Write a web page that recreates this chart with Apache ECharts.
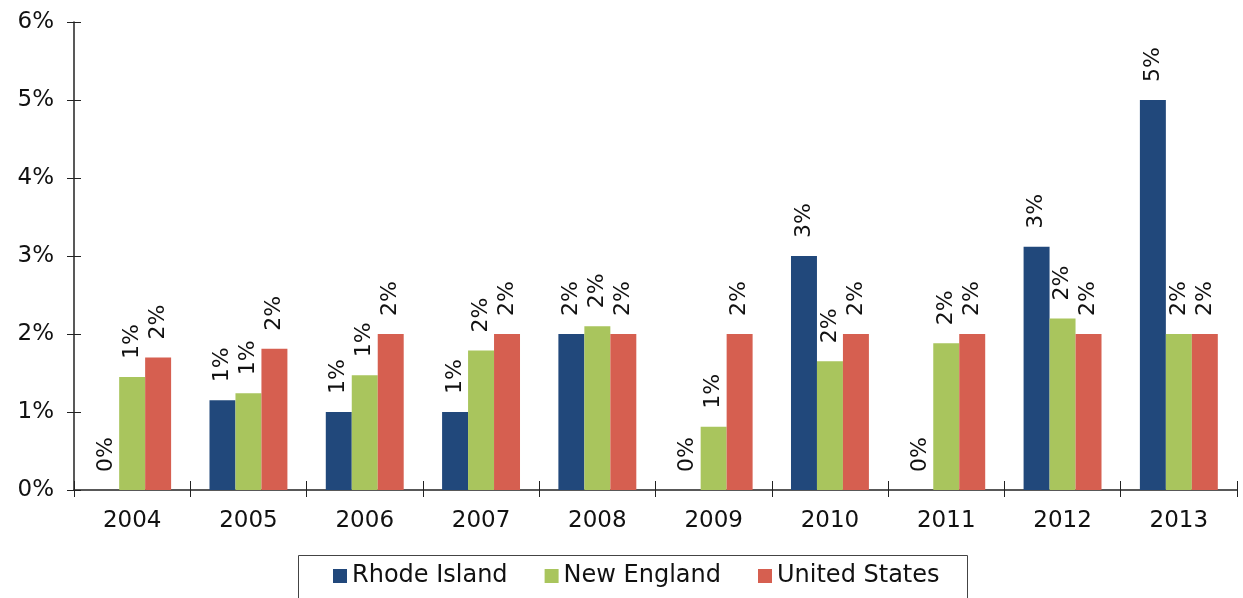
<!DOCTYPE html>
<html>
<head>
<meta charset="utf-8">
<script src="https://cdn.jsdelivr.net/npm/echarts@6/dist/echarts.min.js"></script>
<style>
html,body{margin:0;padding:0;background:#fff;}
#chart{width:1243px;height:598px;}
</style>
</head>
<body>
<div id="chart"></div>
<script>
const years = ['2004','2005','2006','2007','2008','2009','2010','2011','2012','2013'];
const rhodeIsland = [0, 1.15, 1.0, 1.0, 2.0, 0, 3.0, 0, 3.12, 5.0];
const newEngland = [1.45, 1.24, 1.47, 1.79, 2.1, 0.81, 1.65, 1.88, 2.2, 2.0];
const unitedStates = [1.7, 1.81, 2.0, 2.0, 2.0, 2.0, 2.0, 2.0, 2.0, 2.0];
const seriesNames = ['Rhode Island', 'New England', 'United States'];
const yTicks = [0, 1, 2, 3, 4, 5, 6];

const FONT = 'DejaVu Sans';
const colors = ['#21487b', '#a9c55d', '#d65f50'];

const label = {
  show: true,
  position: 'top',
  rotate: 90,
  align: 'left',
  verticalAlign: 'middle',
  distance: 18,
  fontFamily: FONT,
  fontSize: 22,
  color: '#111',
  formatter: p => Math.round(p.value) + '%'
};

function bar(name, data, i) {
  return {
    name: name, type: 'bar', data: data,
    barGap: '0%', barCategoryGap: '33%',
    itemStyle: { color: colors[i] },
    label: label,
    emphasis: { disabled: true }
  };
}

const chart = echarts.init(document.getElementById('chart'));
chart.setOption({
  animation: false,
  color: colors,
  grid: { left: 74, right: 6, top: 22, bottom: 108, containLabel: false },
  xAxis: [{
    type: 'category', data: years,
    axisLine: { lineStyle: { color: '#222', width: 1.5 } },
    axisTick: { show: true, length: 7, lineStyle: { color: '#222' } },
    axisLabel: { fontFamily: FONT, fontSize: 23, color: '#111', margin: 20 }
  }, {
    type: 'category', data: years, position: 'bottom',
    axisLine: { show: false },
    axisTick: { show: true, inside: true, length: 9, lineStyle: { color: '#222' } },
    axisLabel: { show: false }
  }],
  yAxis: [{
    type: 'value', min: yTicks[0], max: yTicks[yTicks.length - 1], interval: 1,
    axisLine: { show: true, lineStyle: { color: '#222', width: 1.5 } },
    axisTick: { show: true, length: 7, lineStyle: { color: '#222' } },
    splitLine: { show: false },
    axisLabel: { fontFamily: FONT, fontSize: 23, color: '#111', margin: 20, formatter: '{value}%' }
  }, {
    type: 'value', min: yTicks[0], max: yTicks[yTicks.length - 1], interval: 1, position: 'left', offset: 0,
    axisLine: { show: false },
    axisTick: { show: true, inside: true, length: 7, lineStyle: { color: '#222' } },
    splitLine: { show: false },
    axisLabel: { show: false }
  }],
  legend: {
    data: seriesNames,
    left: 328, top: 559,
    itemWidth: 14, itemHeight: 14, itemGap: 37,
    icon: 'rect',
    textStyle: { fontFamily: FONT, fontSize: 24, color: '#111' }
  },
  graphic: [{
    type: 'rect', left: 296, top: 553,
    shape: { width: 669, height: 50 },
    style: { fill: 'none', stroke: '#444', lineWidth: 1 }
  }],
  series: [
    bar(seriesNames[0], rhodeIsland, 0),
    bar(seriesNames[1], newEngland, 1),
    bar(seriesNames[2], unitedStates, 2)
  ]
});
</script>
</body>
</html>
